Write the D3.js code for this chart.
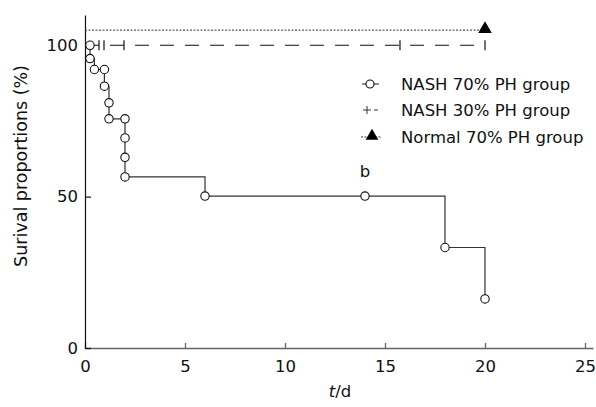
<!DOCTYPE html>
<html>
<head>
  <script src="https://cdn.jsdelivr.net/npm/d3@7"></script>
  <style>
    body { margin: 0; background: #fff; }
    text { font-family: "DejaVu Sans", Verdana, sans-serif; }
  </style>
</head>
<body>
  <div id="chart"></div>
<script>
  // NASH 70% PH group: survival steps (t in days, survival in %)
  const nash70T = [0, 0.25, 0.25, 0.47, 0.97, 0.97, 1.2, 1.2, 2, 2, 2, 2, 6, 14, 18, 20];
  const nash70S = [100, 100, 95.6, 92, 92, 86.5, 81, 75.7, 75.7, 69.4, 63, 56.5, 50.2, 50.2, 33.2, 16.2];
  // NASH 30% PH group: stays at 100%, censor marks
  const nash30T = [0, 20];
  const nash30S = [100, 100];
  const nash30Censor = [0.7, 0.95, 1.95, 15.75, 20];
  // Normal 70% PH group: drawn slightly above 100 so it stays visible
  const normalT = [0, 20];
  const normalS = [105, 105];
  const xTicks = [0, 5, 10, 15, 20, 25];
  const yTicks = [0, 50, 100];
  const legendLabels = ["NASH 70% PH group", "NASH 30% PH group", "Normal 70% PH group"];

  const width = 596, height = 407;
  const svg = d3.select("#chart").append("svg")
    .attr("width", width)
    .attr("height", height);

  const x = d3.scaleLinear().domain([0, 25.4]).range([85, 593]);
  const y = d3.scaleLinear().domain([0, 110]).range([348, 15]);

  // x axis
  const gx = svg.append("g")
    .attr("transform", "translate(0," + y(0) + ")")
    .call(d3.axisBottom(x).tickValues(xTicks).tickSizeInner(-5).tickSizeOuter(0).tickPadding(12));
  gx.selectAll("path, line").attr("stroke", "#666").attr("stroke-width", 1.3);
  gx.selectAll("text").attr("font-size", 16.5).attr("fill", "#111")
    .attr("font-family", "DejaVu Sans, sans-serif");

  // y axis
  const gy = svg.append("g")
    .attr("transform", "translate(" + x(0) + ",0)")
    .call(d3.axisLeft(y).tickValues(yTicks).tickSizeInner(-6).tickSizeOuter(0).tickPadding(7));
  gy.selectAll("path, line").attr("stroke", "#111").attr("stroke-width", 1.2);
  gy.selectAll("text").attr("font-size", 16.5).attr("fill", "#111")
    .attr("font-family", "DejaVu Sans, sans-serif");

  // axis titles
  svg.append("text")
    .attr("transform", "translate(27,166) rotate(-90)")
    .attr("text-anchor", "middle")
    .attr("font-size", 17.5)
    .attr("fill", "#111")
    .text("Surival proportions (%)");

  const xt = svg.append("text")
    .attr("x", 340).attr("y", 397)
    .attr("text-anchor", "middle")
    .attr("font-size", 16.5)
    .attr("fill", "#111");
  xt.append("tspan").attr("font-style", "italic").text("t");
  xt.append("tspan").text("/d");

  const line = d3.line()
    .x(d => x(d[0]))
    .y(d => y(d[1]));

  // Normal 70% dotted
  svg.append("path")
    .datum(d3.zip(normalT, normalS))
    .attr("fill", "none")
    .attr("stroke", "#333")
    .attr("stroke-width", 1)
    .attr("stroke-dasharray", "2,1.5")
    .attr("d", line);
  svg.append("path")
    .attr("transform", "translate(" + x(normalT[1]) + "," + (y(normalS[1]) - 1) + ")")
    .attr("d", d3.symbol(d3.symbolTriangle, 80)())
    .attr("fill", "#000");

  // NASH 30% dashed
  svg.append("path")
    .datum(d3.zip(nash30T, nash30S))
    .attr("fill", "none")
    .attr("stroke", "#111")
    .attr("stroke-width", 1.2)
    .attr("stroke-dasharray", "14,11")
    .attr("d", line);
  svg.selectAll(".censor")
    .data(nash30Censor)
    .enter().append("line")
      .attr("x1", d => x(d)).attr("x2", d => x(d))
      .attr("y1", y(100) - 5).attr("y2", y(100) + 5)
      .attr("stroke", "#111")
      .attr("stroke-width", 1.2);

  // NASH 70% step line with circles
  const pts70 = d3.zip(nash70T, nash70S);
  svg.append("path")
    .datum(pts70)
    .attr("fill", "none")
    .attr("stroke", "#333")
    .attr("stroke-width", 1.2)
    .attr("d", line.curve(d3.curveStepAfter));
  svg.selectAll(".pt70")
    .data(pts70.slice(1))
    .enter().append("circle")
      .attr("cx", d => x(d[0]))
      .attr("cy", d => y(d[1]))
      .attr("r", 4.2)
      .attr("fill", "#fff")
      .attr("stroke", "#111")
      .attr("stroke-width", 1.1);

  // significance mark
  svg.append("text")
    .attr("x", 365).attr("y", 177)
    .attr("text-anchor", "middle")
    .attr("font-size", 16.5)
    .attr("fill", "#111")
    .text("b");

  // legend
  const leg = svg.append("g");
  const rowY = [84, 110, 137];
  legendLabels.forEach((lab, i) => {
    leg.append("text")
      .attr("x", 401).attr("y", rowY[i])
      .attr("dy", "0.35em")
      .attr("font-size", 16.5)
      .attr("fill", "#111")
      .text(lab);
  });
  // row 1 symbol
  leg.append("line").attr("x1", 362).attr("x2", 379).attr("y1", rowY[0]).attr("y2", rowY[0])
    .attr("stroke", "#333").attr("stroke-width", 1.1);
  leg.append("circle").attr("cx", 370).attr("cy", rowY[0]).attr("r", 4)
    .attr("fill", "#fff").attr("stroke", "#111").attr("stroke-width", 1.1);
  // row 2 symbol
  leg.append("line").attr("x1", 363).attr("x2", 371).attr("y1", rowY[1]).attr("y2", rowY[1])
    .attr("stroke", "#333").attr("stroke-width", 1);
  leg.append("line").attr("x1", 367).attr("x2", 367).attr("y1", rowY[1] - 4).attr("y2", rowY[1] + 4)
    .attr("stroke", "#333").attr("stroke-width", 1);
  leg.append("line").attr("x1", 374).attr("x2", 378).attr("y1", rowY[1]).attr("y2", rowY[1])
    .attr("stroke", "#333").attr("stroke-width", 1);
  // row 3 symbol
  leg.append("line").attr("x1", 361).attr("x2", 382).attr("y1", rowY[2]).attr("y2", rowY[2])
    .attr("stroke", "#333").attr("stroke-width", 1).attr("stroke-dasharray", "2,1.5");
  leg.append("path")
    .attr("transform", "translate(372," + (rowY[2] - 1) + ")")
    .attr("d", d3.symbol(d3.symbolTriangle, 70)())
    .attr("fill", "#000");
</script>
</body>
</html>
